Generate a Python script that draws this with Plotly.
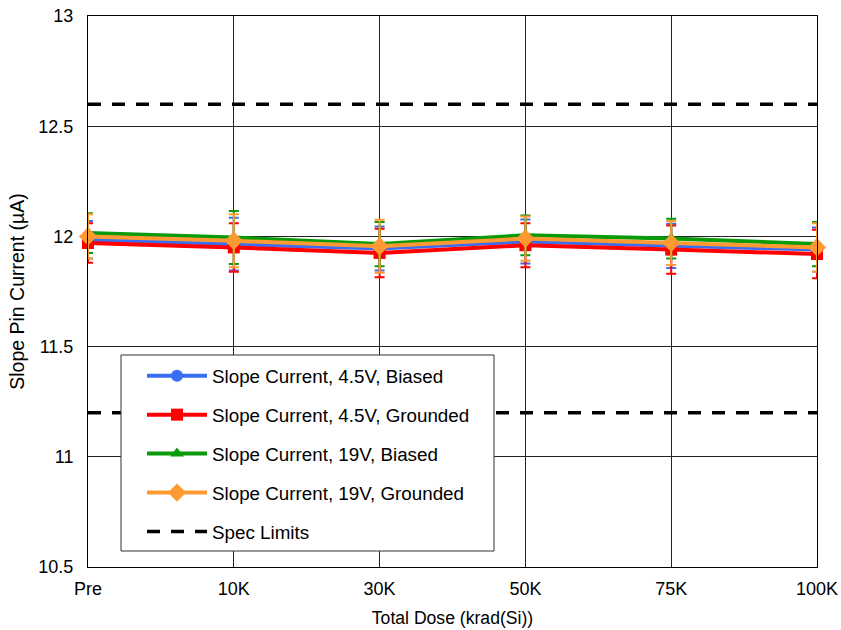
import plotly.graph_objects as go

categories = ["Pre", "10K", "30K", "50K", "75K", "100K"]

blue_vals = [11.985, 11.965, 11.945, 11.977, 11.957, 11.94]
blue_err = [0.085, 0.12, 0.10, 0.10, 0.10, 0.10]
red_vals = [11.97, 11.95, 11.925, 11.96, 11.94, 11.92]
red_err = [0.09, 0.11, 0.11, 0.10, 0.11, 0.11]
green_vals = [12.015, 11.995, 11.965, 12.005, 11.99, 11.965]
green_err = [0.09, 0.12, 0.10, 0.09, 0.09, 0.10]
orange_vals = [12.0, 11.98, 11.955, 11.99, 11.97, 11.95]
orange_err = [0.10, 0.12, 0.12, 0.10, 0.10, 0.11]

spec_upper = 12.6
spec_lower = 11.2

y_ticks = [10.5, 11, 11.5, 12, 12.5, 13]

series = [
    ("Slope Current, 4.5V, Biased", blue_vals, blue_err, "#3a6df0", "circle", 12),
    ("Slope Current, 4.5V, Grounded", red_vals, red_err, "#ff0000", "square", 12),
    ("Slope Current, 19V, Biased", green_vals, green_err, "#0a9a0a", "triangle-up", 12),
    ("Slope Current, 19V, Grounded", orange_vals, orange_err, "#ff9a33", "diamond", 14),
]

fig = go.Figure()
for i, (name, vals, err, col, sym, sz) in enumerate(series):
    fig.add_trace(go.Scatter(
        x=categories, y=vals, name=name, mode="lines+markers",
        legendgroup="g%d" % i,
        line=dict(color=col, width=4),
        marker=dict(color=col, symbol=sym, size=sz),
        error_y=dict(type="data", array=err, visible=True, color=col, thickness=2, width=5),
        cliponaxis=False,
    ))

fig.add_trace(go.Scatter(
    x=[categories[0], categories[-1], None, categories[0], categories[-1]],
    y=[spec_upper, spec_upper, None, spec_lower, spec_lower],
    name="Spec Limits", mode="lines", legendgroup="spec",
    line=dict(color="black", width=3.5, dash="13px,11px"),
))

# legend frame
fig.add_shape(type="rect", xref="paper", yref="paper",
              x0=(121 - 88) / 729, x1=(494 - 88) / 729,
              y0=(567 - 551) / 551, y1=(567 - 355) / 551,
              fillcolor="white", line=dict(color="#333333", width=1), layer="above")

fig.update_layout(
    width=841, height=630,
    margin=dict(l=88, r=24, t=16, b=63),
    paper_bgcolor="white", plot_bgcolor="white",
    font=dict(family="Liberation Sans, Arial, sans-serif", size=17, color="black"),
    showlegend=True,
    legend=dict(
        x=(142 - 88) / 729, y=(567 - 357) / 551, xanchor="left", yanchor="top",
        bgcolor="rgba(0,0,0,0)", borderwidth=0,
        font=dict(size=18.8), itemwidth=60, tracegroupgap=11.5,
        traceorder="grouped",
    ),
    xaxis=dict(
        type="category", categoryorder="array", categoryarray=categories,
        range=[0, 5], showgrid=True, gridcolor="#222222", gridwidth=1,
        showline=True, linecolor="black", linewidth=1, mirror=True,
        ticks="", tickfont=dict(size=18), zeroline=False, automargin=False,
        ticklabelstandoff=5,
        title=dict(text="Total Dose (krad(Si))", font=dict(size=17.6), standoff=14),
    ),
    yaxis=dict(
        range=[10.5, 13], tickvals=y_ticks, ticktext=[("%g" % v) for v in y_ticks],
        showgrid=True, gridcolor="#222222", gridwidth=1,
        showline=True, linecolor="black", linewidth=1, mirror=True,
        ticks="", tickfont=dict(size=18), zeroline=False, automargin=False,
        ticklabelstandoff=10,
        title=dict(text="Slope Pin Current (µA)", font=dict(size=19.5), standoff=8),
    ),
)

fig.write_html("out.html", config={"displayModeBar": False},
               post_script="document.body.style.margin='0';")
